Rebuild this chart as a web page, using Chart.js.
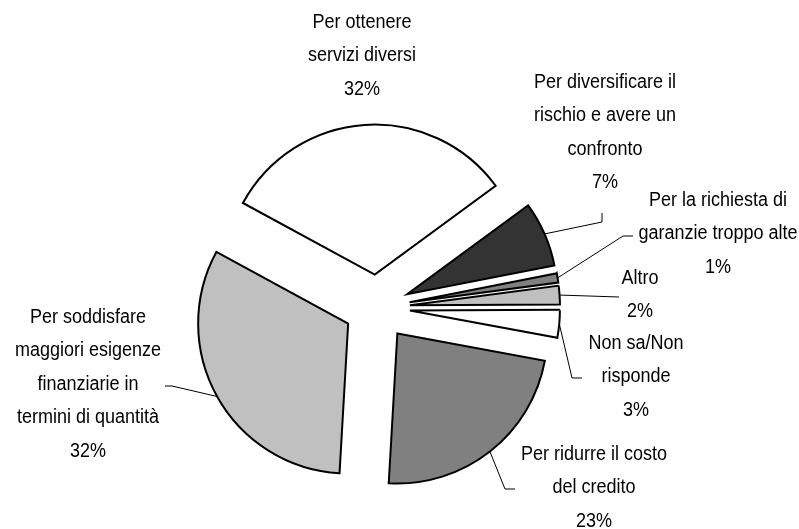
<!DOCTYPE html>
<html lang="it">
<head>
    <meta charset="UTF-8">
    <title>Motivi</title>
    <script src="https://cdn.jsdelivr.net/npm/chart.js"></script>
    <style>
        body, html {
            margin: 0;
            padding: 0;
            background: #fff;
            overflow: hidden;
        }
        #wrap {
            width: 799px;
            height: 529px;
        }
    </style>
</head>
<body>
<div id="wrap"><canvas id="pieChart" width="799" height="529"></canvas></div>
<script>
    const categories = [
        'Per ottenere servizi diversi',
        'Per diversificare il rischio e avere un confronto',
        'Per la richiesta di garanzie troppo alte',
        'Altro',
        'Non sa/Non risponde',
        'Per ridurre il costo del credito',
        'Per soddisfare maggiori esigenze finanziarie in termini di quantità'
    ];
    const values = [32, 7, 1, 2, 3, 23, 32];
    const sliceColors = ['#ffffff', '#333333', '#808080', '#c0c0c0', '#ffffff', '#808080', '#c0c0c0'];

    // where each label sits (text centre, first line) and its leader line
    const labelLayout = [
        { x: 362, y: 22,  width: 115, leader: null },
        { x: 605, y: 82,  width: 152, leader: [[602, 222], [602, 213]] },
        { x: 718, y: 200, width: 160, leader: [[623, 236], [633, 236]] },
        { x: 640, y: 278, width: 60,  leader: [[619, 297]] },
        { x: 636, y: 343, width: 110, leader: [[572, 378], [582, 378]] },
        { x: 594, y: 454, width: 150, leader: [[505, 489], [515, 489]] },
        { x: 88,  y: 317, width: 150, leader: [[172, 386], [165, 386]] }
    ];
    const explode = 33;
    const lineHeight = 33.5;
    const textScale = 0.9;

    const explodePlugin = {
        id: 'explode',
        afterDatasetsUpdate(chart) {
            chart.getDatasetMeta(0).data.forEach(arc => {
                const mid = (arc.startAngle + arc.endAngle) / 2;
                arc.x += Math.cos(mid) * explode;
                arc.y += Math.sin(mid) * explode;
            });
        }
    };

    function wrapText(ctx, text, maxWidth) {
        const words = text.split(' ');
        const lines = [];
        let line = '';
        words.forEach(w => {
            const test = line ? line + ' ' + w : w;
            if (line && ctx.measureText(test).width * textScale > maxWidth) {
                lines.push(line);
                line = w;
            } else {
                line = test;
            }
        });
        if (line) lines.push(line);
        return lines;
    }

    const labelPlugin = {
        id: 'sliceLabels',
        afterDraw(chart) {
            const ctx = chart.ctx;
            const arcs = chart.getDatasetMeta(0).data;
            ctx.save();
            ctx.font = '20px "Liberation Sans", Arial, sans-serif';
            ctx.fillStyle = '#000';
            ctx.strokeStyle = '#000';
            ctx.lineWidth = 1;
            ctx.textAlign = 'center';
            ctx.textBaseline = 'middle';

            arcs.forEach((arc, i) => {
                const pos = labelLayout[i];
                const lines = wrapText(ctx, categories[i], pos.width);
                lines.push(values[i] + '%');
                lines.forEach((ln, k) => {
                    ctx.save();
                    ctx.translate(pos.x, pos.y + k * lineHeight);
                    ctx.scale(textScale, 1);
                    ctx.fillText(ln, 0, 0);
                    ctx.restore();
                });

                if (pos.leader) {
                    const mid = (arc.startAngle + arc.endAngle) / 2;
                    const sx = arc.x + Math.cos(mid) * arc.outerRadius;
                    const sy = arc.y + Math.sin(mid) * arc.outerRadius;
                    ctx.beginPath();
                    ctx.moveTo(sx, sy);
                    pos.leader.forEach(p => ctx.lineTo(p[0], p[1]));
                    ctx.stroke();
                }
            });
            ctx.restore();
        }
    };

    const ctx = document.getElementById('pieChart').getContext('2d');
    const pieChart = new Chart(ctx, {
        type: 'pie',
        data: {
            labels: categories,
            datasets: [{
                data: values,
                backgroundColor: sliceColors,
                borderColor: '#000',
                borderWidth: 2,
                borderJoinStyle: 'miter'
            }]
        },
        options: {
            responsive: false,
            animation: false,
            events: [],
            rotation: -61.5,
            radius: 150,
            layout: {
                padding: { left: 0, right: 45, top: 86, bottom: 0 }
            },
            plugins: {
                legend: { display: false },
                tooltip: { enabled: false }
            }
        },
        plugins: [explodePlugin, labelPlugin]
    });
</script>
</body>
</html>
